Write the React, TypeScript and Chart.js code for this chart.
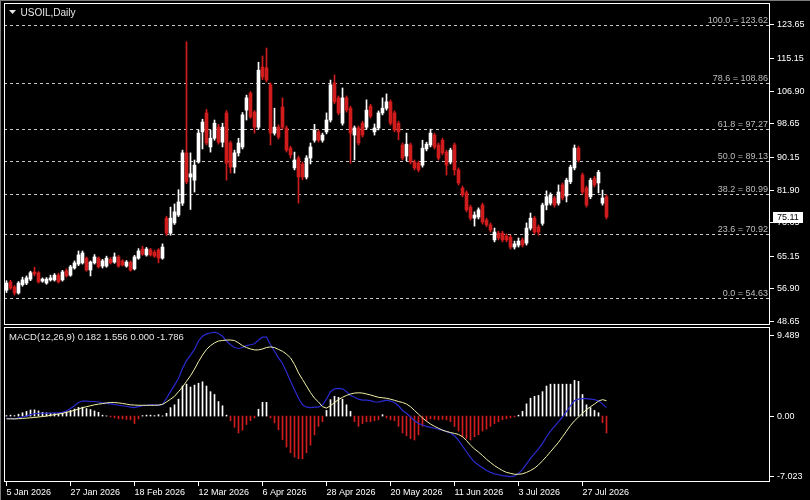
import React, { useEffect, useRef } from 'react';
import { Chart, registerables } from 'chart.js';

Chart.register(...registerables);

// ---------- data ----------
const opens = [
  56.6, 58.7, 57.4, 55.9, 58.0, 58.4, 59.4, 61.2, 61.0, 58.9,
  58.4, 59.2, 59.2, 60.4, 59.2, 61.5, 60.4, 62.2, 63.2, 63.5,
  64.7, 61.7, 63.5, 64.7, 62.7, 62.7, 64.4, 63.7, 65.0, 64.0,
  62.7, 63.7, 62.0, 64.7, 67.0, 65.5, 66.8, 66.2, 66.8, 64.7,
  74.8, 71.0, 73.6, 75.6, 78.6, 91.3, 85.2, 84.4, 89.0, 96.6,
  101.4, 92.8, 95.0, 97.8, 94.0, 101.4, 93.8, 87.7, 91.3, 92.8,
  102.1, 106.4, 101.6, 97.8, 113.0, 112.8, 108.5, 96.3, 97.8, 102.9,
  97.6, 92.5, 87.5, 90.0, 88.5, 85.2, 90.0, 94.5, 96.6, 94.5,
  96.6, 99.6, 109.0, 105.2, 98.8, 105.2, 102.6, 95.8, 97.6, 98.8,
  97.8, 103.1, 96.6, 97.6, 101.4, 102.6, 104.2, 101.4, 98.8, 93.3,
  90.5, 93.3, 89.0, 88.7, 88.2, 92.3, 93.3, 95.8, 93.3, 94.5,
  91.5, 89.0, 93.3, 87.0, 82.4, 81.2, 77.6, 74.8, 75.1, 78.1,
  74.3, 73.1, 69.3, 71.0, 71.0, 70.3, 70.0, 67.5, 68.0, 69.3,
  68.5, 72.3, 74.8, 72.6, 73.5, 78.1, 78.6, 79.9, 78.6, 83.2,
  80.4, 84.0, 87.5, 92.5, 85.7, 82.4, 80.2, 84.9, 83.7, 78.6,
  80.2,
];
const highs = [
  59.0, 59.1, 57.8, 58.8, 59.9, 60.2, 61.4, 62.4, 61.3, 59.7,
  59.8, 60.4, 60.8, 60.9, 61.6, 62.0, 62.9, 64.0, 66.5, 66.5,
  65.0, 64.0, 65.6, 65.0, 64.4, 65.2, 64.9, 66.0, 65.4, 64.3,
  64.1, 64.0, 65.4, 67.1, 67.7, 67.4, 67.2, 66.7, 67.1, 68.3,
  75.3, 77.6, 78.4, 82.0, 92.0, 119.4, 91.3, 89.5, 97.1, 99.8,
  102.3, 97.0, 99.6, 98.5, 98.8, 102.0, 94.3, 92.0, 95.0, 101.5,
  105.9, 106.8, 102.0, 114.2, 115.8, 117.8, 109.0, 102.6, 98.4, 105.2,
  98.1, 93.0, 91.5, 90.5, 89.0, 90.6, 93.8, 98.5, 97.1, 96.3,
  101.4, 109.7, 111.0, 105.7, 107.7, 105.7, 103.1, 98.1, 98.1, 99.3,
  104.7, 103.6, 98.6, 101.9, 105.2, 106.2, 104.7, 101.9, 99.3, 93.8,
  96.3, 93.8, 89.5, 89.2, 94.5, 94.0, 97.3, 96.3, 93.8, 95.0,
  92.0, 92.5, 93.8, 87.5, 82.9, 81.7, 78.1, 76.4, 77.4, 78.6,
  74.8, 73.6, 72.3, 71.5, 71.5, 70.8, 70.5, 69.0, 69.8, 69.8,
  73.6, 76.1, 75.3, 73.1, 78.6, 81.7, 81.2, 80.4, 83.2, 83.7,
  84.9, 88.2, 93.3, 93.0, 86.2, 82.9, 84.9, 85.4, 86.9, 81.9,
  80.7,
];
const lows = [
  56.0, 56.8, 55.4, 55.6, 57.6, 58.0, 59.0, 60.2, 58.4, 58.6,
  58.1, 58.9, 58.9, 58.4, 58.9, 59.9, 60.1, 61.9, 62.8, 63.2,
  61.4, 60.2, 63.2, 62.2, 62.2, 62.4, 63.2, 63.4, 62.4, 62.7,
  62.4, 61.4, 61.7, 64.4, 65.4, 65.2, 65.2, 64.9, 63.5, 64.4,
  70.4, 70.5, 73.2, 75.2, 78.0, 83.5, 77.0, 81.4, 88.7, 92.3,
  93.3, 91.5, 94.5, 93.5, 92.8, 84.4, 86.2, 86.2, 90.5, 92.3,
  99.6, 100.0, 96.3, 97.3, 109.8, 109.2, 93.3, 95.8, 94.8, 97.3,
  91.5, 90.0, 87.0, 78.6, 84.5, 84.7, 88.5, 94.0, 94.0, 94.0,
  96.1, 99.1, 103.7, 100.9, 98.3, 101.6, 88.7, 89.5, 93.3, 95.3,
  97.3, 100.1, 95.8, 97.1, 100.9, 102.1, 98.3, 96.6, 94.6, 89.5,
  89.3, 88.5, 87.0, 86.5, 87.7, 91.8, 92.8, 92.3, 89.5, 90.8,
  85.7, 88.5, 85.7, 83.2, 80.2, 76.4, 74.3, 72.8, 74.6, 73.3,
  72.6, 71.3, 68.8, 69.3, 68.8, 68.8, 67.0, 67.0, 67.5, 67.5,
  68.0, 71.8, 70.8, 70.5, 73.0, 76.9, 78.1, 77.6, 78.1, 79.4,
  78.9, 83.5, 87.0, 89.0, 80.9, 77.6, 79.7, 82.7, 81.2, 78.1,
  74.6,
];
const closes = [
  58.4, 57.1, 55.9, 58.4, 59.2, 59.7, 61.0, 60.7, 58.7, 59.4,
  59.4, 59.7, 60.4, 58.7, 61.2, 60.2, 62.5, 63.5, 65.5, 66.0,
  61.7, 63.7, 65.0, 62.5, 64.0, 64.7, 63.5, 65.0, 62.7, 63.0,
  63.7, 61.7, 65.0, 66.5, 65.7, 67.0, 65.5, 65.2, 64.7, 67.5,
  71.0, 74.8, 76.4, 78.9, 91.3, 84.0, 86.0, 88.2, 96.3, 99.1,
  93.8, 95.0, 98.8, 94.0, 97.8, 88.7, 87.7, 91.3, 93.8, 100.9,
  105.2, 100.4, 97.8, 112.2, 110.5, 109.7, 96.3, 97.8, 95.3, 97.8,
  92.0, 90.8, 89.5, 85.2, 85.2, 90.0, 92.8, 97.1, 94.5, 95.8,
  99.6, 108.5, 104.2, 101.4, 105.2, 102.1, 96.3, 97.6, 93.8, 95.8,
  102.1, 100.6, 97.6, 101.4, 102.6, 104.2, 98.8, 97.1, 96.6, 90.0,
  93.5, 89.0, 87.5, 87.0, 92.5, 93.5, 96.3, 92.8, 90.0, 91.3,
  88.2, 92.0, 87.0, 83.7, 80.7, 76.9, 74.8, 75.6, 76.9, 73.8,
  73.1, 71.8, 71.3, 69.8, 69.3, 69.3, 67.5, 68.3, 69.0, 68.0,
  72.3, 74.8, 71.3, 71.3, 78.1, 80.2, 80.7, 78.1, 81.4, 79.9,
  84.4, 87.7, 92.5, 89.5, 81.4, 78.1, 84.4, 83.2, 86.4, 79.9,
  75.11,
];

const macdMain = [
  -0.25, -0.25, -0.3, -0.2, -0.1, 0.0, 0.15, 0.25, 0.3, 0.3,
  0.32, 0.33, 0.35, 0.35, 0.4, 0.55, 0.8, 1.1, 1.45, 1.6,
  1.6, 1.55, 1.55, 1.5, 1.4, 1.35, 1.3, 1.25, 1.15, 1.1,
  1.05, 0.95, 0.9, 1.0, 1.1, 1.15, 1.2, 1.2, 1.15, 1.25,
  1.9, 2.6, 3.3, 4.0, 5.1, 5.9, 6.5, 7.1, 8.0, 8.5,
  8.75, 8.85, 8.95, 8.8, 8.5, 8.0, 7.6, 7.3, 7.2, 7.3,
  7.5, 7.6, 7.7, 8.1, 8.4, 8.4, 7.6, 6.9, 6.2, 5.6,
  4.7, 3.7, 2.8, 1.9, 1.2, 0.95, 0.9, 0.95, 0.95, 1.2,
  1.8, 2.6, 2.9, 2.95, 2.9, 2.6, 2.2, 2.0, 1.8, 1.7,
  1.7, 1.65, 1.5, 1.5, 1.6, 1.7, 1.6, 1.45, 1.1, 0.6,
  0.3, -0.1, -0.5, -0.8, -0.95, -1.1, -1.2, -1.3, -1.4, -1.5,
  -1.65, -1.8, -2.1, -2.6, -3.2, -3.8, -4.4, -4.9, -5.2, -5.5,
  -5.8, -6.0, -6.15, -6.25, -6.35, -6.4, -6.45, -6.4, -6.1, -5.7,
  -5.1, -4.5, -4.0, -3.5, -2.9, -2.2, -1.6, -1.1, -0.6, -0.1,
  0.5, 1.1, 1.65, 1.8, 1.85, 1.85, 1.8, 1.75, 1.6, 1.3,
  0.9,
];
const macdSignal = [
  -0.3, -0.3, -0.3, -0.28, -0.25, -0.22, -0.18, -0.15, -0.1, -0.05,
  0.0, 0.08, 0.15, 0.22, 0.3, 0.4, 0.5, 0.62, 0.75, 0.9,
  1.0, 1.1, 1.2, 1.27, 1.33, 1.4, 1.45, 1.45, 1.4, 1.35,
  1.27, 1.2, 1.17, 1.15, 1.15, 1.15, 1.15, 1.15, 1.17, 1.25,
  1.5, 1.8, 2.1, 2.6, 3.1, 3.7, 4.3, 5.0, 5.8, 6.5,
  7.1, 7.5, 7.8, 8.0, 8.05, 8.1, 8.1, 8.05, 7.8, 7.5,
  7.3, 7.15, 7.05, 7.05, 7.15, 7.3, 7.37, 7.3, 7.1, 6.9,
  6.6, 6.2, 5.5, 4.6, 3.9, 3.2, 2.5, 1.9, 1.5, 1.0,
  0.85, 1.1, 1.45, 1.75, 2.0, 2.2, 2.35, 2.45, 2.48, 2.45,
  2.35, 2.25, 2.12, 2.0, 1.95, 1.9, 1.8, 1.68, 1.55, 1.45,
  1.28, 1.0, 0.6, 0.2, -0.2, -0.55, -0.85, -1.09, -1.3, -1.5,
  -1.64, -1.75, -1.85, -1.95, -2.2, -2.6, -3.1, -3.5, -3.83, -4.2,
  -4.6, -4.95, -5.28, -5.55, -5.8, -6.0, -6.1, -6.2, -6.2, -6.15,
  -6.0, -5.8, -5.55, -5.2, -4.76, -4.3, -3.8, -3.3, -2.8, -2.2,
  -1.6, -1.0, -0.5, -0.1, 0.3, 0.7, 1.0, 1.28, 1.6, 1.75,
  1.64,
];
const macdHist = [
  0.05, 0.1, 0.05, 0.2, 0.35, 0.5, 0.65, 0.66, 0.55, 0.4,
  0.35, 0.3, 0.3, 0.25, 0.3, 0.45, 0.6, 0.75, 0.92, 0.95,
  0.8, 0.7, 0.55, 0.4, 0.1, 0.02, -0.1, -0.2, -0.3, -0.3,
  -0.36, -0.4, -0.8, -0.3, 0.05, 0.1, 0.1, 0.05, 0.15, 0.02,
  0.3, 0.9, 1.2, 1.8, 3.2, 3.4, 3.1, 3.3, 3.5, 3.65,
  3.2, 2.6, 2.3, 1.55, 1.1, 0.1, -0.5, -1.2, -1.8, -1.5,
  -0.9, -0.5, -0.2, 0.73, 1.46, 1.46, -0.2, -0.73, -1.46, -2.5,
  -3.3, -3.9, -4.37, -4.55, -4.55, -3.9, -3.1, -2.0, -1.1, -0.6,
  0.6, 1.75, 2.1, 2.0, 1.8, 1.2, 0.5, -0.6, -1.1, -0.8,
  -0.6, -0.6, -0.5, -0.4, 0.15, -0.2, -0.4, -0.5, -1.1, -1.8,
  -2.1, -2.4, -2.55, -2.0, -1.1, -0.5, -0.3, -0.35, -0.4, -0.35,
  -0.4, -0.6, -1.1, -1.6, -2.2, -2.4, -2.55, -2.2, -2.0, -1.6,
  -1.4, -1.1, -0.8, -0.6, -0.4, -0.3, -0.2, -0.1, 0.1, 0.5,
  1.3, 1.9, 2.1, 2.2, 2.6, 3.2, 3.4, 3.4, 3.4, 3.4,
  3.4, 3.4, 3.8, 3.7, 2.3, 1.2, 0.9, 0.6, 0.35, -0.7,
  -1.8,
];

const priceTicks = [123.65, 115.15, 106.9, 98.65, 90.15, 81.9, 73.65, 65.15, 56.9, 48.65];
const fibLevels = [100.0, 78.6, 61.8, 50.0, 38.2, 23.6, 0.0];
const fibPrices = [123.62, 108.86, 97.27, 89.13, 80.99, 70.92, 54.63];
const dateTickIndex = [0, 16, 32, 48, 64, 80, 96, 112, 128, 144];
const dateTickLabels = [
  '5 Jan 2026', '27 Jan 2026', '18 Feb 2026', '12 Mar 2026', '6 Apr 2026',
  '28 Apr 2026', '20 May 2026', '11 Jun 2026', '3 Jul 2026', '27 Jul 2026',
];
const macdAxisLabels = ['9.489', '0.00', '-7.023'];
const macdLegend = 'MACD(12,26,9) 0.182 1.556 0.000 -1.786';
const chartTitle = 'USOIL,Daily';
const lastPrice = 75.11;

// ---------- styling ----------
const FONT = '"Liberation Sans", Arial, sans-serif';
const BULL = '#ffffff';
const BEAR = '#d01c1c';
const X_MIN = -0.625;
const X_MAX = 190.875;
const PRICE_MIN = 47.8;
const PRICE_MAX = 129.18;
const MACD_MIN = -7.023;
const MACD_MAX = 9.489;

const idx = opens.map((_, i) => i);
const candleColors = idx.map((i) => (closes[i] >= opens[i] ? BULL : BEAR));

const frame = (chart: any) => {
  const { ctx, chartArea: a } = chart;
  ctx.save();
  ctx.strokeStyle = '#ffffff';
  ctx.lineWidth = 1;
  ctx.setLineDash([]);
  ctx.strokeRect(a.left + 0.5, a.top + 0.5, a.right - a.left - 1, a.bottom - a.top - 1);
  ctx.strokeStyle = '#7c7c7c';
  ctx.beginPath();
  ctx.moveTo(0.5, 0);
  ctx.lineTo(0.5, chart.height);
  ctx.stroke();
  ctx.restore();
};

const mainDeco = {
  id: 'mainDeco',
  beforeDatasetsDraw(chart: any) {
    const { ctx, chartArea: a, scales } = chart;
    const y = scales.y;
    ctx.save();
    ctx.strokeStyle = '#c8c8c8';
    ctx.lineWidth = 1;
    ctx.setLineDash([3, 3]);
    fibPrices.forEach((p) => {
      const py = Math.round(y.getPixelForValue(p)) + 0.5;
      ctx.beginPath();
      ctx.moveTo(a.left, py);
      ctx.lineTo(a.right, py);
      ctx.stroke();
    });
    ctx.restore();
  },
  afterDraw(chart: any) {
    const { ctx, chartArea: a, scales } = chart;
    const y = scales.y;
    frame(chart);
    ctx.save();
    ctx.strokeStyle = '#7c7c7c';
    ctx.beginPath();
    ctx.moveTo(0, 0.5);
    ctx.lineTo(chart.width, 0.5);
    ctx.stroke();
    // fibonacci labels
    ctx.font = `9px ${FONT}`;
    ctx.fillStyle = '#bdbdbd';
    ctx.textAlign = 'right';
    ctx.textBaseline = 'alphabetic';
    fibPrices.forEach((p, k) => {
      const py = Math.round(y.getPixelForValue(p));
      ctx.fillText(`${fibLevels[k].toFixed(1)} = ${p.toFixed(2)}`, a.right - 2, py - 2);
    });
    // title
    ctx.fillStyle = '#e6e6e6';
    ctx.beginPath();
    ctx.moveTo(a.left + 5, a.top + 7);
    ctx.lineTo(a.left + 12, a.top + 7);
    ctx.lineTo(a.left + 8.5, a.top + 11);
    ctx.closePath();
    ctx.fill();
    ctx.font = `10px ${FONT}`;
    ctx.textAlign = 'left';
    ctx.fillText(chartTitle, a.left + 16.5, a.top + 12.5);
    // last price box
    const py = y.getPixelForValue(lastPrice);
    ctx.fillStyle = '#ffffff';
    ctx.fillRect(y.left + 3, Math.round(py) - 5, 30, 11);
    ctx.fillStyle = '#000000';
    ctx.font = `9px ${FONT}`;
    ctx.textBaseline = 'middle';
    ctx.fillText(lastPrice.toFixed(2), y.left + 7, py + 0.5);
    ctx.restore();
  },
};

const macdDeco = {
  id: 'macdDeco',
  afterDraw(chart: any) {
    const { ctx, chartArea: a, scales } = chart;
    const y = scales.y;
    frame(chart);
    ctx.save();
    ctx.font = `9.5px ${FONT}`;
    ctx.fillStyle = '#e6e6e6';
    ctx.textAlign = 'left';
    ctx.textBaseline = 'alphabetic';
    ctx.fillText(macdLegend, a.left + 5, a.top + 13);
    const ys = [a.top + 7.5, y.getPixelForValue(0), a.bottom - 6.5];
    ctx.strokeStyle = '#ffffff';
    ctx.lineWidth = 1;
    ctx.font = `9px ${FONT}`;
    ctx.fillStyle = '#ffffff';
    ctx.textBaseline = 'middle';
    macdAxisLabels.forEach((t, k) => {
      const py = Math.round(ys[k]) + 0.5;
      ctx.beginPath();
      ctx.moveTo(y.left, py);
      ctx.lineTo(y.left + 4, py);
      ctx.stroke();
      ctx.fillText(t, y.left + 7, py);
    });
    ctx.restore();
  },
};

export default function App() {
  const mainRef = useRef<HTMLCanvasElement>(null);
  const macdRef = useRef<HTMLCanvasElement>(null);

  useEffect(() => {
    const mainChart = new Chart(mainRef.current as HTMLCanvasElement, {
      type: 'bar',
      data: {
        datasets: [
          {
            data: idx.map((i) => ({ x: i, y: [opens[i], closes[i]] })) as any,
            backgroundColor: candleColors,
            barThickness: 3,
            minBarLength: 1,
            grouped: false,
            order: 0,
          } as any,
          {
            data: idx.map((i) => ({ x: i, y: [lows[i], highs[i]] })) as any,
            backgroundColor: candleColors,
            barThickness: 1,
            grouped: false,
            order: 1,
          } as any,
        ],
      },
      options: {
        animation: false,
        responsive: false,
        events: [],
        layout: { padding: { left: 4, top: 3, right: 0, bottom: 1 } },
        plugins: { legend: { display: false }, tooltip: { enabled: false } },
        scales: {
          x: {
            type: 'linear',
            display: false,
            min: X_MIN,
            max: X_MAX,
            offset: false,
            bounds: 'data',
            grid: { offset: false },
          } as any,
          y: {
            type: 'linear',
            position: 'right',
            min: PRICE_MIN,
            max: PRICE_MAX,
            bounds: 'data',
            afterBuildTicks: (s: any) => {
              s.ticks = priceTicks.map((v) => ({ value: v }));
            },
            afterFit: (s: any) => {
              s.width = 40;
              s.paddingTop = 0;
              s.paddingBottom = 0;
            },
            ticks: {
              color: '#ffffff',
              font: { family: FONT, size: 9 },
              padding: 3,
              autoSkip: false,
              callback: (v: any) => Number(v).toFixed(2),
            },
            grid: { drawOnChartArea: false, drawTicks: true, tickLength: 4, color: '#ffffff' },
            border: { display: false },
          } as any,
        },
      },
      plugins: [mainDeco],
    });

    const macdChart = new Chart(macdRef.current as HTMLCanvasElement, {
      type: 'bar',
      data: {
        datasets: [
          {
            type: 'line',
            data: idx.map((i) => ({ x: i, y: macdSignal[i] })),
            borderColor: '#f2f2a6',
            borderWidth: 1,
            pointRadius: 0,
            tension: 0,
            order: 0,
          } as any,
          {
            type: 'line',
            data: idx.map((i) => ({ x: i, y: macdMain[i] })),
            borderColor: '#2a2ad0',
            borderWidth: 1.2,
            pointRadius: 0,
            tension: 0,
            order: 1,
          } as any,
          {
            type: 'bar',
            data: idx.map((i) => ({ x: i, y: macdHist[i] })),
            backgroundColor: macdHist.map((v) => (v >= 0 ? BULL : BEAR)),
            barThickness: 1,
            grouped: false,
            order: 2,
          } as any,
        ],
      },
      options: {
        animation: false,
        responsive: false,
        events: [],
        layout: { padding: { left: 4, top: 1, right: 0, bottom: 0 } },
        plugins: { legend: { display: false }, tooltip: { enabled: false } },
        scales: {
          x: {
            type: 'linear',
            min: X_MIN,
            max: X_MAX,
            offset: false,
            bounds: 'data',
            afterBuildTicks: (s: any) => {
              s.ticks = dateTickIndex.map((v) => ({ value: v }));
            },
            afterFit: (s: any) => {
              s.height = 18;
              s.paddingLeft = 0;
              s.paddingRight = 0;
            },
            ticks: {
              color: '#ffffff',
              font: { family: FONT, size: 9 },
              padding: 1,
              align: 'start',
              maxRotation: 0,
              minRotation: 0,
              autoSkip: false,
              callback: (v: any) => {
                const k = dateTickIndex.indexOf(Number(v));
                return k >= 0 ? dateTickLabels[k] : '';
              },
            },
            grid: { drawOnChartArea: false, drawTicks: true, tickLength: 4, color: '#ffffff', offset: false },
            border: { display: false },
          } as any,
          y: {
            type: 'linear',
            position: 'right',
            min: MACD_MIN,
            max: MACD_MAX,
            bounds: 'data',
            afterFit: (s: any) => {
              s.width = 40;
              s.paddingTop = 0;
              s.paddingBottom = 0;
            },
            ticks: { display: false },
            grid: { display: false },
            border: { display: false },
          } as any,
        },
      },
      plugins: [macdDeco],
    });

    return () => {
      mainChart.destroy();
      macdChart.destroy();
    };
  }, []);

  return (
    <div
      style={{
        position: 'fixed',
        left: 0,
        top: 0,
        width: 810,
        height: 500,
        background: '#000000',
        overflow: 'hidden',
      }}
    >
      <canvas
        ref={mainRef}
        width={810}
        height={326}
        style={{ position: 'absolute', left: 0, top: 0, width: 810, height: 326 }}
      />
      <canvas
        ref={macdRef}
        width={810}
        height={174}
        style={{ position: 'absolute', left: 0, top: 326, width: 810, height: 174 }}
      />
    </div>
  );
}
